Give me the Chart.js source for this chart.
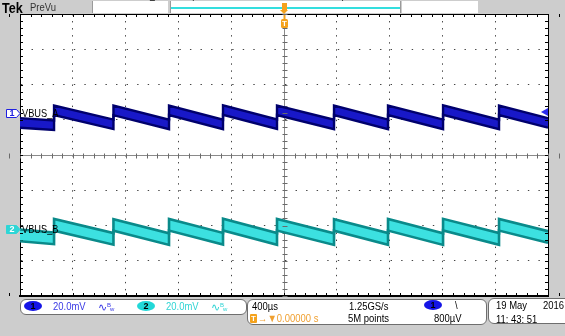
<!DOCTYPE html>
<html>
<head>
<meta charset="utf-8">
<script src="https://cdn.jsdelivr.net/npm/chart.js@4.4.1/dist/chart.umd.min.js"></script>
<style>
  html, body { margin: 0; padding: 0; background: #cdcdcd; }
  #scope { position: relative; width: 565px; height: 336px; overflow: hidden; background: #cdcdcd;
           font-family: "Liberation Sans", Arial, sans-serif; }
  #scope canvas { position: absolute; left: 0; top: 0; }
  .t { position: absolute; white-space: nowrap; font-size: 11px; line-height: 11px; color: #000;
       transform: scaleX(0.86); transform-origin: 0 0; }
  .box { position: absolute; box-sizing: border-box; background: #fff; border: 1px solid #6e6e6e; border-radius: 6px; }
  .pill { position: absolute; box-sizing: border-box; border-radius: 50%; font: bold 9px/10px "Liberation Sans", Arial, sans-serif;
          text-align: center; color: #000; }
  .bw { position: absolute; white-space: nowrap; font-size: 11px; line-height: 11px; }
  .bw sup { font-size: 6px; vertical-align: 4px; }
  .bw sub { font-size: 6px; vertical-align: 0; margin-left: -1px; }
  .topw { position: absolute; top: 1px; height: 12px; background: #fff; box-sizing: border-box; }
</style>
</head>
<body>
<div id="scope">
  <canvas id="chart" width="565" height="336"></canvas>

  <!-- top bar -->
  <div class="t" style="left:150px;top:-10px;font-size:10px">_</div>
  <div class="t" style="left:192px;top:-8px;font-size:10px">(</div>
  <div class="t" style="left:341px;top:-8px;font-size:10px">)</div>
  <div class="t" style="left:2px;top:1px;font-size:14px;line-height:14px;font-weight:bold;transform:scaleX(0.9)">Tek</div>
  <div class="t" style="left:30px;top:2px;color:#333">PreVu</div>
  <div class="topw" style="left:92px;width:76px;border-left:1px solid #9a9a9a"></div>
  <div class="topw" style="left:170px;width:231px;border-left:1px solid #9a9a9a;border-right:1px solid #9a9a9a"></div>
  <div style="position:absolute;left:171px;top:7px;width:229px;height:2px;background:#33dede"></div>
  <div class="topw" style="left:402px;width:76px"></div>
  <div style="position:absolute;left:282px;top:3px;width:5px;height:8px;background:#f4a21c"></div>
  <div style="position:absolute;left:280px;top:10px;width:0;height:0;border-left:4.5px solid transparent;border-right:4.5px solid transparent;border-top:4px solid #f4a21c"></div>

  <!-- channel readouts -->
  <div class="box" style="left:20px;top:299px;width:227px;height:16px"></div>
  <div class="pill" style="left:24px;top:301px;width:18px;height:10px;background:#1414e6">1</div>
  <div class="t" style="left:53px;top:301px;color:#3838e4">20.0mV</div>
  <div class="bw" style="left:98px;top:300px;color:#3838e4">∿<sup>B</sup><sub>w</sub></div>
  <div class="pill" style="left:137px;top:301px;width:18px;height:10px;background:#22d8d8">2</div>
  <div class="t" style="left:166px;top:301px;color:#30d4d4">20.0mV</div>
  <div class="bw" style="left:211px;top:300px;color:#30d4d4">∿<sup>B</sup><sub>w</sub></div>

  <!-- timebase / trigger readout -->
  <div class="box" style="left:247px;top:299px;width:240px;height:26px"></div>
  <div class="t" style="left:252px;top:301px">400µs</div>
  <div class="t" style="left:349px;top:301px">1.25GS/s</div>
  <div class="pill" style="left:424px;top:300px;width:18px;height:10px;background:#1414e6;color:#000">1</div>
  <div class="t" style="left:455px;top:300px">\</div>
  <div style="position:absolute;left:250px;top:314px;width:7px;height:9px;background:#f4a21c;border-radius:1px;color:#fff;font:bold 8px/9px 'Liberation Sans',Arial,sans-serif;text-align:center">T</div>
  <div class="t" style="left:258px;top:312.5px;color:#f0a030">→▼0.00000 s</div>
  <div class="t" style="left:348px;top:312.5px">5M points</div>
  <div class="t" style="left:434px;top:312.5px">800µV</div>

  <!-- date / time -->
  <div class="box" style="left:488px;top:298px;width:90px;height:26px"></div>
  <div class="t" style="left:496px;top:300px">19 May</div>
  <div class="t" style="left:543px;top:300px">2016</div>
  <div class="t" style="left:496px;top:313.5px">11: 43: 51</div>
</div>

<script>
// Horizontal: 400 µs/div over 10 divisions, trigger in the centre
const timePerDiv = 400;
const sweepStart = -2000;
const sweepEnd = 2000;
// Vertical: 8 divisions, both channels at 20 mV/div
const halfDivs = 4;
const mvPerDiv = 20;
const ch1Position = 1.18;   // divisions above centre
const ch2Position = -2.11;  // divisions below centre
const trigLevel = 0.8;      // mV, channel 1, falling edge

// Sample times (µs); each ramp edge appears twice (before / after the step)
const sweepTimes = [-2000, -1742, -1742, -1292, -1292, -871, -871, -462, -462, -53,
                    -53, 379, 379, 788, 788, 1205, 1205, 1629, 1629, 2000];
// Centre of the VBUS ripple band (mV) at each sample time
const vbusA = [-5.4, -6.7, 1.8, -6.2, 1.7, -6.3, 1.8, -6.2, 1.9, -6.1,
               1.8, -6.3, 1.7, -6.2, 1.8, -6.2, 1.9, -6.3, 1.8, -5.4];
const vbusB = [-3.4, -5.1, 2.6, -5.4, 2.5, -5.5, 2.6, -5.3, 2.7, -5.4,
               2.6, -5.5, 2.5, -5.4, 2.6, -5.5, 2.7, -5.4, 2.6, -4.3];
// Peak-to-peak width of the noise band (mV)
const bandA = 5.4;
const bandB = 6.6;

const traceLabels = ['VBUS_A', 'VBUS_B'];
const traceColors = { a: { fill: '#1818c8', edge: '#00006c' }, b: { fill: '#3ce0e0', edge: '#0a8a8a' } };

function envelope(values, band, position, side) {
  return sweepTimes.map((t, i) => ({ x: t, y: position + (values[i] + side * band / 2) / mvPerDiv }));
}

const majorX = v => v === sweepStart || v === sweepEnd || v === 0;
const majorY = v => v === -halfDivs || v === halfDivs || v === 0;

const scopeDecor = {
  id: 'scopeDecor',
  beforeDraw(chart) {
    const { ctx, chartArea: a } = chart;
    ctx.save();
    ctx.fillStyle = '#ffffff';
    ctx.fillRect(a.left, a.top, a.right - a.left, a.bottom - a.top);
    ctx.restore();
  },
  beforeDatasetsDraw(chart) {
    const { ctx, chartArea: a, scales: { x, y } } = chart;
    const seg = (x1, y1, x2, y2) => { ctx.beginPath(); ctx.moveTo(x1, y1); ctx.lineTo(x2, y2); ctx.stroke(); };
    const cx = Math.round(x.getPixelForValue(0)) + 0.5;
    const cy = Math.round(y.getPixelForValue(0)) + 0.5;
    ctx.save();
    ctx.lineWidth = 1;
    // minor ticks, five per division
    for (let k = -50; k <= 50; k++) {
      const px = Math.round(x.getPixelForValue(k * timePerDiv / 5)) + 0.5;
      ctx.strokeStyle = '#000';
      seg(px, a.top, px, a.top + 3);
      seg(px, a.bottom - 3, px, a.bottom);
      ctx.strokeStyle = '#6a6a6a';
      seg(px, cy - 2, px, cy + 3);
    }
    for (let k = -20; k <= 20; k++) {
      const py = Math.round(y.getPixelForValue(k / 5)) + 0.5;
      ctx.strokeStyle = '#000';
      seg(a.left, py, a.left + 3, py);
      seg(a.right - 3, py, a.right, py);
      ctx.strokeStyle = '#6a6a6a';
      seg(cx - 2, py, cx + 3, py);
    }
    ctx.restore();
  },
  afterDatasetsDraw(chart) {
    const { ctx, chartArea: a, scales: { x, y } } = chart;
    ctx.save();
    // trace names
    ctx.font = '11px "Liberation Sans", Arial, sans-serif';
    ctx.fillStyle = '#000';
    ctx.textBaseline = 'alphabetic';
    [ch1Position, ch2Position].forEach((pos, i) => {
      const py = y.getPixelForValue(pos);
      ctx.save();
      ctx.translate(a.left + 2, py + 3.5);
      ctx.scale(0.84, 1);
      ctx.fillText(traceLabels[i], 0, 0);
      ctx.restore();
    });
    // channel ground markers at the left edge
    const marker = (py, fill, stroke, textColor, label) => {
      const l = 6.5, r = 16.5, tip = 20, h = 4;
      ctx.beginPath();
      ctx.moveTo(l, py - h); ctx.lineTo(r, py - h); ctx.lineTo(tip, py); ctx.lineTo(r, py + h); ctx.lineTo(l, py + h); ctx.closePath();
      ctx.fillStyle = fill; ctx.fill();
      ctx.strokeStyle = stroke; ctx.lineWidth = 1; ctx.stroke();
      ctx.fillStyle = textColor;
      ctx.font = 'bold 9px "Liberation Sans", Arial, sans-serif';
      ctx.textAlign = 'center'; ctx.textBaseline = 'middle';
      ctx.fillText(label, (l + r) / 2 + 0.5, py + 0.5);
    };
    marker(Math.round(y.getPixelForValue(ch1Position)) + 0.5, '#ffffff', '#2020e0', '#2020e0', '1');
    marker(Math.round(y.getPixelForValue(ch2Position)) + 0.5, '#2ed6d6', '#2ed6d6', '#ffffff', '2');
    // trigger level arrow at the right edge
    const ty = y.getPixelForValue(ch1Position + trigLevel / mvPerDiv);
    ctx.beginPath();
    ctx.moveTo(a.right - 7, ty); ctx.lineTo(a.right, ty - 4); ctx.lineTo(a.right, ty + 4); ctx.closePath();
    ctx.fillStyle = '#2a2aee'; ctx.fill();
    // trigger position marker
    const tx = Math.round(x.getPixelForValue(0));
    ctx.fillStyle = '#f4a21c';
    ctx.beginPath();
    ctx.roundRect ? ctx.roundRect(tx - 3, a.top + 5, 7, 9, 1.5) : ctx.rect(tx - 3, a.top + 5, 7, 9);
    ctx.fill();
    ctx.fillRect(tx - 0.5, a.top + 1, 2, 4);
    ctx.fillStyle = '#ffffff';
    ctx.font = 'bold 8px "Liberation Sans", Arial, sans-serif';
    ctx.textAlign = 'center'; ctx.textBaseline = 'middle';
    ctx.fillText('T', tx + 0.5, a.top + 10);
    ctx.restore();
  }
};

new Chart(document.getElementById('chart'), {
  type: 'line',
  data: {
    datasets: [
      { data: envelope(vbusA, bandA, ch1Position, -1), borderColor: traceColors.a.edge, borderWidth: 2.4, fill: false },
      { data: envelope(vbusA, bandA, ch1Position, 1), borderColor: traceColors.a.edge, borderWidth: 2.4,
        fill: '-1', backgroundColor: traceColors.a.fill },
      { data: envelope(vbusB, bandB, ch2Position, -1), borderColor: traceColors.b.edge, borderWidth: 2.6, fill: false },
      { data: envelope(vbusB, bandB, ch2Position, 1), borderColor: traceColors.b.edge, borderWidth: 2.6,
        fill: '-1', backgroundColor: traceColors.b.fill }
    ]
  },
  options: {
    responsive: false,
    animation: false,
    devicePixelRatio: 1,
    layout: { padding: { left: 20, top: 14, right: 17, bottom: 40 } },
    elements: { point: { radius: 0 }, line: { tension: 0 } },
    datasets: { line: { clip: 0 } },
    plugins: {
      legend: { display: false },
      tooltip: { enabled: false },
      filler: { drawTime: 'beforeDatasetsDraw' }
    },
    scales: {
      x: {
        type: 'linear', min: sweepStart, max: sweepEnd,
        ticks: { display: false, stepSize: timePerDiv },
        grid: {
          drawTicks: false,
          lineWidth: 1,
          color: c => majorX(c.tick.value) ? (c.tick.value === 0 ? '#8a8a8a' : '#000') : '#444444'
        },
        border: {
          display: true, color: '#000', width: 2,
          dash: c => (c.tick && !majorX(c.tick.value)) ? [1.4, 5.65] : []
        }
      },
      y: {
        type: 'linear', min: -halfDivs, max: halfDivs,
        ticks: { display: false, stepSize: 1 },
        grid: {
          drawTicks: false,
          lineWidth: 1,
          color: c => majorY(c.tick.value) ? (c.tick.value === 0 ? '#8a8a8a' : '#000') : '#444444'
        },
        border: {
          display: true, color: '#000', width: 1,
          dash: c => (c.tick && !majorY(c.tick.value)) ? [1.4, 9.16] : []
        }
      }
    }
  },
  plugins: [scopeDecor]
});
</script>
</body>
</html>
